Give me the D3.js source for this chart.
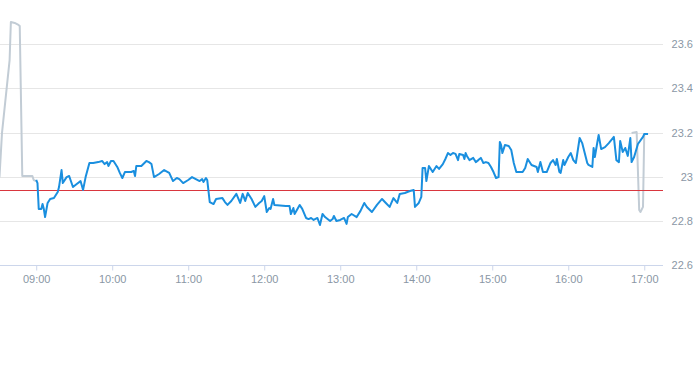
<!DOCTYPE html>
<html><head><meta charset="utf-8">
<script src="https://cdn.jsdelivr.net/npm/d3@7"></script>
<style>
html,body{margin:0;padding:0;background:#fff;}
svg{display:block;font-family:"Liberation Sans",Arial,sans-serif;}
</style></head>
<body>
<svg id="chart" width="693" height="365"></svg>
<script>
// ---- data ----
const preTimes = ["08:31","08:33","08:39","08:40","08:43","08:46","08:47","08:49","08:57","08:58","09:00"];
const preValues = [22.998,23.198,23.528,23.700,23.696,23.687,23.682,23.003,23.003,22.985,22.980];

const times = [
"09:00","09:01","09:02","09:04","09:05","09:06","09:07","09:09","09:11","09:14",
"09:17","09:18","09:20","09:21","09:24","09:26","09:29","09:32","09:35","09:37",
"09:39","09:42","09:45","09:49","09:52","09:54","09:56","09:57","09:59","10:01",
"10:04","10:06","10:08","10:10","10:15","10:17","10:18","10:19","10:23","10:27",
"10:29","10:31","10:33","10:37","10:41","10:45","10:48","10:51","10:53","10:56",
"11:00","11:03","11:06","11:09","11:11","11:12","11:14","11:15","11:17","11:20",
"11:22","11:27","11:29","11:31","11:34","11:38","11:41","11:43","11:45","11:47",
"11:50","11:53","11:56","11:58","12:00","12:02","12:04","12:05","12:07","12:08",
"12:17","12:20","12:21","12:23","12:24","12:28","12:30","12:33","12:35","12:37",
"12:39","12:42","12:44","12:46","12:48","12:52","12:54","12:55","12:57","13:00",
"13:03","13:05","13:06","13:09","13:13","13:16","13:19","13:21","13:25","13:29",
"13:33","13:36","13:39","13:42","13:45","13:47","13:51","13:55","13:58","13:59",
"14:02","14:04","14:05","14:07","14:08","14:10","14:11","14:13","14:16","14:18",
"14:21","14:23","14:25","14:27","14:29","14:31","14:33","14:34","14:37","14:38",
"14:39","14:40","14:42","14:45","14:47","14:49","14:51","14:53","14:55","14:57",
"14:59","15:01","15:03","15:05","15:06","15:07","15:08","15:10","15:13","15:15",
"15:17","15:19","15:24","15:26","15:28","15:31","15:35","15:36","15:38","15:40",
"15:43","15:46","15:48","15:50","15:51","15:53","15:54","15:56","15:57","16:00",
"16:02","16:04","16:06","16:09","16:11","16:13","16:15","16:16","16:19","16:20",
"16:21","16:23","16:24","16:26","16:29","16:32","16:36","16:38","16:40","16:41",
"16:43","16:45","16:47","16:49","16:50","16:52","16:55","16:59","17:00","17:03"
];
const prices = [
22.985,22.971,22.854,22.854,22.876,22.854,22.817,22.881,22.899,22.903,
22.931,22.953,23.030,22.971,22.998,23.003,22.953,22.967,22.980,22.940,
22.998,23.062,23.062,23.066,23.071,23.057,23.066,23.048,23.071,23.071,
23.044,23.017,22.994,23.021,23.021,23.026,23.003,23.048,23.048,23.071,
23.066,23.057,22.998,23.012,23.030,23.017,22.980,22.994,22.989,22.971,
22.985,22.998,22.989,22.980,22.989,22.976,22.994,22.985,22.885,22.876,
22.899,22.903,22.885,22.872,22.890,22.922,22.881,22.922,22.890,22.926,
22.899,22.863,22.881,22.890,22.912,22.840,22.858,22.854,22.899,22.872,
22.867,22.867,22.831,22.858,22.831,22.872,22.854,22.813,22.808,22.813,
22.804,22.813,22.781,22.831,22.817,22.799,22.808,22.822,22.799,22.804,
22.813,22.786,22.817,22.831,22.817,22.845,22.881,22.863,22.840,22.872,
22.899,22.881,22.863,22.903,22.881,22.922,22.926,22.935,22.940,22.863,
22.881,22.908,23.039,23.039,22.980,23.048,23.039,23.021,23.048,23.035,
23.057,23.080,23.107,23.098,23.107,23.103,23.075,23.103,23.098,23.080,
23.107,23.094,23.075,23.085,23.066,23.075,23.085,23.062,23.066,23.062,
23.044,23.021,22.994,22.998,23.157,23.143,23.107,23.143,23.139,23.121,
23.062,23.021,23.021,23.039,23.080,23.053,23.044,23.021,23.066,23.021,
23.021,23.062,23.075,23.053,23.080,23.021,23.017,23.075,23.053,23.089,
23.107,23.075,23.062,23.175,23.152,23.107,23.062,23.053,23.044,23.130,
23.089,23.157,23.189,23.125,23.134,23.152,23.180,23.075,23.066,23.162,
23.112,23.130,23.094,23.175,23.066,23.089,23.148,23.180,23.193,23.193
];

const postTimes = ["16:50","16:54","16:56","16:57","16:59","17:00"];
const postValues = [23.198,23.202,22.849,22.840,22.863,23.198];

const prevClose = 22.94;
const yTickValues = [22.6, 22.8, 23.0, 23.2, 23.4, 23.6];
const xTickLabels = ["09:00","10:00","11:00","12:00","13:00","14:00","15:00","16:00","17:00"];

// ---- layout ----
const W = 693, H = 365;
const plotW = 663, plotTop = 0, plotBottom = 265;
const parseHM = d3.timeParse("%H:%M");
const parseHMS = d3.timeParse("%H:%M:%S");

const x = d3.scaleTime()
  .domain([parseHMS("08:31:25"), parseHMS("17:15:35")])
  .range([0, 664]);
const y = d3.scaleLinear().domain([22.6, 23.8]).range([plotBottom, plotTop]);

const svg = d3.select("#chart");

// grid
const grid = svg.append("g");
grid.selectAll("line").data(yTickValues.filter(v => v > 22.6)).join("line")
  .attr("x1", 0).attr("x2", plotW)
  .attr("y1", d => Math.round(y(d)) + 0.5).attr("y2", d => Math.round(y(d)) + 0.5)
  .attr("stroke", "#e6e6e6").attr("stroke-width", 1);

// x axis
const xAxis = d3.axisBottom(x)
  .tickValues(xTickLabels.map(parseHM))
  .tickFormat(d3.timeFormat("%H:%M"))
  .tickSize(5).tickSizeOuter(0).tickPadding(5);
const gx = svg.append("g").attr("transform", `translate(0,${plotBottom + 0.5})`).call(xAxis);
gx.select(".domain").attr("d", `M0,0H${plotW}`).attr("stroke", "#ccd6eb");
gx.selectAll(".tick line").attr("stroke", "#ccd6eb");
gx.selectAll(".tick text").attr("fill", "#8a97a5").style("font-size", "11px")
  .style("font-family", '"Liberation Sans",Arial,sans-serif');

// y axis labels on right
const yAxis = d3.axisRight(y).tickValues(yTickValues).tickSize(0).tickPadding(0)
  .tickFormat(d => d3.format("~g")(d));
const gy = svg.append("g").attr("transform", `translate(${W},0)`).call(yAxis);
gy.select(".domain").remove();
gy.selectAll(".tick text").attr("x", 0).attr("text-anchor", "end")
  .attr("fill", "#8a97a5").style("font-size", "11px")
  .style("font-family", '"Liberation Sans",Arial,sans-serif');

// clip
svg.append("clipPath").attr("id", "clip").append("rect")
  .attr("x", 0).attr("y", 0).attr("width", plotW).attr("height", plotBottom);

const line = d3.line().x(d => x(d[0])).y(d => y(d[1]));
const plot = svg.append("g").attr("clip-path", "url(#clip)");

const pre = preTimes.map((t, i) => [parseHM(t), preValues[i]]);
const main = times.map((t, i) => [parseHM(t), prices[i]]);
const post = postTimes.map((t, i) => [parseHM(t), postValues[i]]);

plot.append("path").datum(pre).attr("d", line)
  .attr("fill", "none").attr("stroke", "#c2ccd5").attr("stroke-width", 2).attr("stroke-linejoin", "round");
plot.append("path").datum(post).attr("d", line)
  .attr("fill", "none").attr("stroke", "#c2ccd5").attr("stroke-width", 2).attr("stroke-linejoin", "round");

// reference line
plot.append("line")
  .attr("x1", 0).attr("x2", plotW)
  .attr("y1", Math.round(y(prevClose)) + 0.5).attr("y2", Math.round(y(prevClose)) + 0.5)
  .attr("stroke", "#d9363e").attr("stroke-width", 1);

plot.append("path").datum(main).attr("d", line)
  .attr("fill", "none").attr("stroke", "#1a8fdf").attr("stroke-width", 2).attr("stroke-linejoin", "round");
</script>
</body></html>
